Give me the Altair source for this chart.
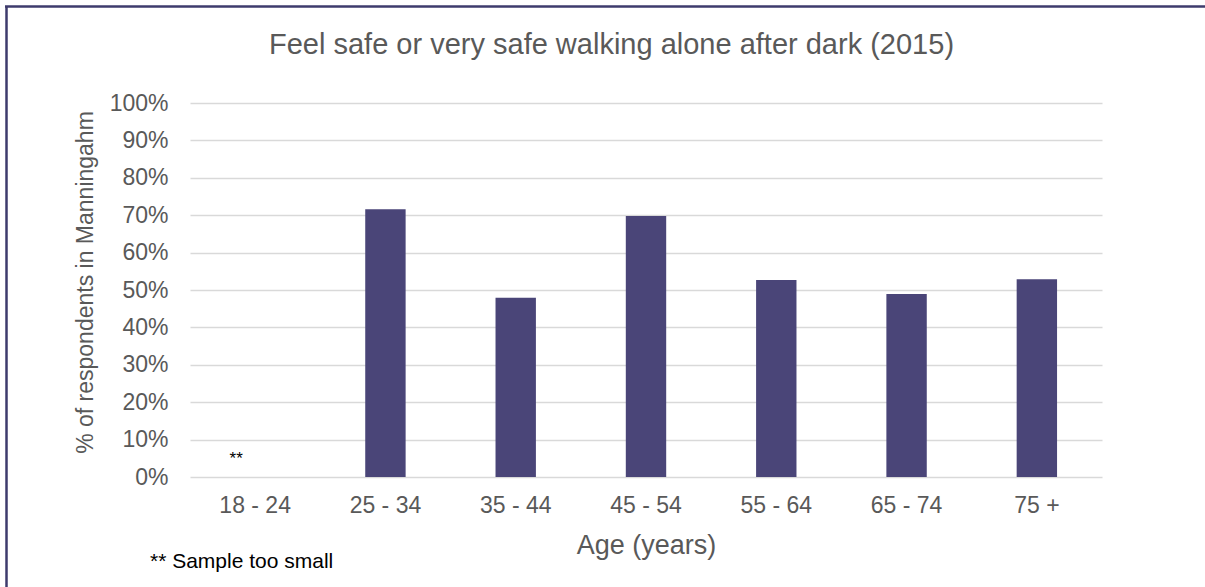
import altair as alt
import pandas as pd

# Share of respondents who feel safe walking alone after dark, by age group
age_groups = ["18 - 24", "25 - 34", "35 - 44", "45 - 54", "55 - 64", "65 - 74", "75 +"]
share_safe = [None, 0.716, 0.479, 0.698, 0.527, 0.489, 0.529]
suppressed_groups = ["18 - 24"]
y_ticks = [0.0, 0.1, 0.2, 0.3, 0.4, 0.5, 0.6, 0.7, 0.8, 0.9, 1.0]
chart_title = "Feel safe or very safe walking alone after dark (2015)"
footnote = "** Sample too small"

FONT = "Liberation Sans"
GREY = "#595959"
BAR = "#4a4578"
FRAME = "#3e3b6c"

bars_df = pd.DataFrame({"age": age_groups, "share": share_safe})
stars_df = pd.DataFrame({"age": suppressed_groups, "share": [0.0] * len(suppressed_groups), "mark": ["**"]})
note_df = pd.DataFrame({"note": [footnote], "title": [chart_title]})

x_enc = alt.X(
    "age:N",
    sort=age_groups,
    scale=alt.Scale(domain=age_groups, paddingInner=0.69, paddingOuter=0.345),
    axis=alt.Axis(
        title="Age (years)",
        labelAngle=0,
        labelFontSize=23,
        labelFont=FONT,
        labelColor=GREY,
        labelPadding=17,
        labelOverlap=False,
        titleFont=FONT,
        titleFontSize=27,
        titleFontWeight="normal",
        titleColor=GREY,
        titleBaseline="alphabetic",
        titleY=76,
        domain=False,
        ticks=False,
        grid=False,
    ),
)

y_enc = alt.Y(
    "share:Q",
    scale=alt.Scale(domain=[0, 1], nice=False),
    axis=alt.Axis(
        title="% of respondents in Manningahm",
        values=y_ticks,
        tickCount=11,
        format=".0%",
        labelFontSize=23,
        labelFont=FONT,
        labelColor=GREY,
        labelPadding=22,
        labelOverlap=False,
        labelBound=False,
        labelFlush=False,
        titleFont=FONT,
        titleFontSize=23,
        titleFontWeight="normal",
        titleColor=GREY,
        titleAngle=270,
        titleBaseline="alphabetic",
        titleX=-98,
        titleY=179,
        domain=False,
        ticks=False,
        grid=True,
        gridColor="#d9d9d9",
        gridWidth=1.5,
    ),
)

bars = alt.Chart(bars_df).mark_bar(color=BAR).encode(x=x_enc, y=y_enc)

# Marker for the age group whose sample was too small to report
stars = alt.Chart(stars_df).mark_text(
    font=FONT, fontSize=17, color="#000000", baseline="alphabetic", align="center", dx=-19, dy=-13
).encode(x=x_enc, y=y_enc, text="mark:N")

# Chart heading, centred over the whole figure rather than the plot area
heading = alt.Chart(note_df).mark_text(
    font=FONT, fontSize=29, color=GREY, baseline="alphabetic", align="center"
).encode(x=alt.value(421.5), y=alt.value(-49), text="title:N")

note = alt.Chart(note_df).mark_text(
    font=FONT, fontSize=21, color="#000000", baseline="alphabetic", align="left"
).encode(x=alt.value(-40), y=alt.value(465), text="note:N")

# Frame along the top and left edges of the figure
frame_left = alt.Chart(note_df).mark_rule(color=FRAME, strokeWidth=2.5).encode(
    x=alt.value(-183.5), y=alt.value(-97), y2=alt.value(484)
)
frame_top = alt.Chart(note_df).mark_rule(color=FRAME, strokeWidth=2.5).encode(
    x=alt.value(-185), x2=alt.value(1015), y=alt.value(-96.5)
)

chart = (
    alt.layer(bars, stars, heading, note, frame_left, frame_top)
    .properties(
        width=912,
        height=374,
        autosize=alt.AutoSizeParams(type="none"),
        padding={"left": 190, "top": 103, "right": 103, "bottom": 110},
        background="white",
    )
    .configure_view(strokeWidth=0)
)

chart.save("out.html", embed_options={"renderer": "svg", "actions": False})
